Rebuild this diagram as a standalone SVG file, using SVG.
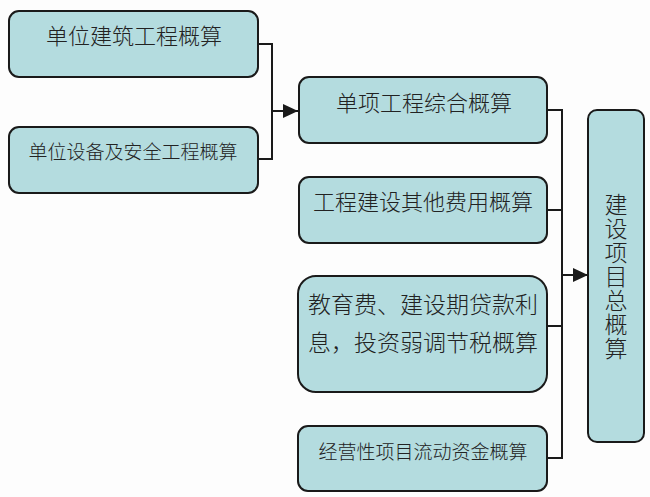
<svg xmlns="http://www.w3.org/2000/svg" width="650" height="497" viewBox="0 0 650 497">
<defs>
<style>
.box{fill:#b4dcdf;stroke:#1a1a1a;stroke-width:2}
.t{font-family:"Liberation Sans","Noto Sans CJK SC",sans-serif;font-weight:300;fill:#222;text-anchor:middle}
.c{fill:none;stroke:#1a1a1a;stroke-width:2}
</style>
<marker id="ah" markerWidth="16" markerHeight="14" refX="15" refY="7" orient="auto" markerUnits="userSpaceOnUse">
<path d="M0,0 L15,7 L0,14 Z" fill="#1a1a1a"/>
</marker>
</defs>
<rect width="650" height="497" fill="#fdfdfd"/>
<g id="connectors">
<path class="c" d="M258,44 H272 V159 H258"/>
<path class="c" d="M272,111 H298" marker-end="url(#ah)"/>
<path class="c" d="M547,110 H562 V458 H547"/>
<path class="c" d="M547,210 H562"/>
<path class="c" d="M547,326 H562"/>
<path class="c" d="M562,275 H588" marker-end="url(#ah)"/>
</g>
<g id="n1">
<rect class="box" x="9" y="11" width="249" height="66" rx="10"/>
<text class="t" x="134" y="44" font-size="22">单位建筑工程概算</text>
</g>
<g id="n2">
<rect class="box" x="9" y="127" width="249" height="66" rx="10"/>
<text class="t" x="133" y="159" font-size="19">单位设备及安全工程概算</text>
</g>
<g id="n3">
<rect class="box" x="299" y="77" width="248" height="66" rx="10"/>
<text class="t" x="424" y="111" font-size="22">单项工程综合概算</text>
</g>
<g id="n4">
<rect class="box" x="299" y="177" width="248" height="66" rx="10"/>
<text class="t" x="423" y="210" font-size="22">工程建设其他费用概算</text>
</g>
<g id="n5">
<rect class="box" x="298" y="276" width="249" height="116" rx="18"/>
<text class="t" x="423" y="313" font-size="23">教育费、建设期贷款利</text>
<text class="t" x="423" y="351" font-size="23">息，投资弱调节税概算</text>
</g>
<g id="n6">
<rect class="box" x="298" y="426" width="249" height="65" rx="10"/>
<text class="t" x="423" y="459" font-size="19">经营性项目流动资金概算</text>
</g>
<g id="n7">
<rect class="box" x="588" y="110" width="56" height="332" rx="9"/>
<g class="t" font-size="23">
<text x="616" y="213">建</text>
<text x="616" y="237">设</text>
<text x="616" y="261">项</text>
<text x="616" y="285">目</text>
<text x="616" y="309">总</text>
<text x="616" y="333">概</text>
<text x="616" y="357">算</text>
</g>
</g>
</svg>
